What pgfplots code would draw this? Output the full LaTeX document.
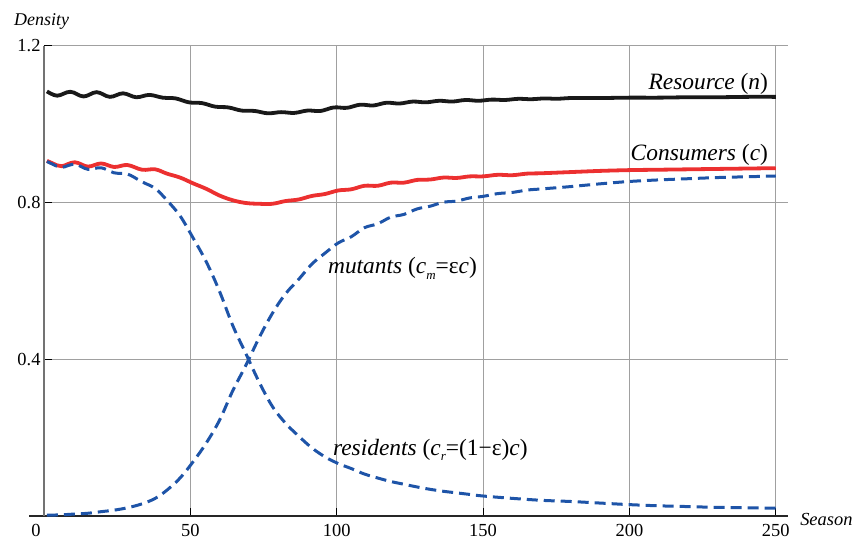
\documentclass[border=0pt]{standalone}
\usepackage{fontspec}
\setmainfont{Liberation Serif}
\usepackage{pgfplots}
\pgfplotsset{compat=1.18}
\definecolor{resred}{RGB}{236,48,48}
\definecolor{resblue}{RGB}{30,84,168}
\definecolor{gridgray}{RGB}{160,160,160}

\begin{document}
\begin{tikzpicture}
\begin{axis}[
  x=2.927bp, y=391.7bp,
  xmin=0, xmax=254.2, ymin=0, ymax=1.2,
  axis line style={draw=none},
  clip=false,
  xtick={50,100,150,200,250},
  ytick={0.4,0.8,1.2},
  extra x ticks={0},
  extra x tick style={grid=none, major tick length=0pt, xticklabel style={xshift=-8bp}},
  tick pos=left,
  tick align=inside,
  major tick length=8bp,
  tick style={black, line width=0.9bp},
  grid=major,
  major grid style={gridgray, line width=0.9bp},
  /pgf/number format/assume math mode=true,
  /pgf/number format/fixed,
  ticklabel style={font=\rmfamily\fontsize{18.5}{20}\selectfont},
  xticklabel style={yshift=-5bp},
  yticklabels={0.4,0.8,1.2},
]
% axis lines
\draw[black!85, line width=1.1bp] (axis cs:-5,0) -- (axis cs:254.2,0);
\draw[black!55, line width=1.1bp] (axis cs:0,0) -- (axis cs:0,1.2);

% Resource (n)
\addplot[black!90, line width=3.8bp, smooth, tension=0.6] coordinates {
(1,1.084) (4.5,1.073) (9,1.083) (13.5,1.071) (18,1.082) (22.5,1.070) (27,1.079)
(31.5,1.069) (36,1.075) (40.5,1.068) (45,1.066) (49.5,1.056) (54,1.054) (58.5,1.045)
(63,1.043) (67.5,1.035) (72,1.034) (76.5,1.028) (81,1.031) (85.5,1.029) (90,1.035)
(94.5,1.034) (99,1.043) (103.5,1.042) (108,1.050) (112.5,1.048) (117,1.055) (121.5,1.053)
(126,1.058) (130.5,1.056) (135,1.060) (139.5,1.058) (144,1.062) (148.5,1.060) (153,1.063)
(157.5,1.062) (162,1.065) (166.5,1.064) (171,1.066) (175.5,1.065) (180,1.067) (190,1.067)
(200,1.068) (210,1.068) (220,1.069) (230,1.069) (240,1.070) (250,1.070)
};

% Consumers (c)
\addplot[resred, line width=3.8bp, smooth, tension=0.6] coordinates {
(1,0.907) (3,0.900) (6,0.893) (10.5,0.903) (15,0.892) (19.5,0.900) (24,0.891)
(28.5,0.896) (33.5,0.884) (38,0.885) (42,0.874) (46.5,0.864) (51,0.849) (55.5,0.835)
(60,0.818) (64.5,0.806) (69,0.799) (73.5,0.797) (78,0.797) (82.5,0.804) (87,0.808)
(91.5,0.817) (96,0.822) (100.5,0.831) (105,0.834) (109.5,0.843) (114,0.843) (118.5,0.851)
(123,0.851) (127.5,0.858) (132,0.859) (136.5,0.864) (141,0.863) (145.5,0.867) (150,0.867)
(155,0.871) (160,0.870) (165,0.874) (170,0.875) (180,0.878) (190,0.881) (200,0.883)
(210,0.884) (220,0.885) (230,0.886) (240,0.887) (250,0.888)
};

% residents
\addplot[resblue, line width=3bp, dash pattern=on 11bp off 6bp, smooth, tension=0.6] coordinates {
(1,0.905) (3,0.898) (6,0.890) (10.5,0.898) (15,0.885) (19.5,0.889) (24,0.876)
(28.5,0.873) (33.5,0.853) (38,0.836) (42,0.806) (46.5,0.766) (51,0.709) (55.5,0.648)
(60,0.573) (64.5,0.486) (69,0.414) (73.5,0.342) (78,0.280) (82.5,0.237) (87,0.204)
(91.5,0.174) (96,0.151) (100.5,0.134) (105,0.121) (109.5,0.107) (114,0.097) (118.5,0.088)
(123,0.081) (127.5,0.074) (132,0.068) (136.5,0.063) (141,0.059) (145.5,0.055) (150,0.051)
(160,0.045) (170,0.040) (180,0.037) (190,0.033) (200,0.029) (210,0.026) (220,0.024)
(230,0.022) (240,0.021) (250,0.020)
};

% mutants
\addplot[resblue, line width=3bp, dash pattern=on 11bp off 6bp, smooth, tension=0.6] coordinates {
(1,0.002) (6,0.003) (10.5,0.005) (15,0.007) (19.5,0.011) (24,0.015)
(28.5,0.021) (33.5,0.031) (38,0.045) (42,0.066) (46.5,0.097) (51,0.139) (55.5,0.187)
(60,0.245) (64.5,0.320) (69,0.385) (73.5,0.455) (78,0.517) (82.5,0.567) (87,0.604)
(91.5,0.643) (96,0.671) (100.5,0.697) (105,0.713) (109.5,0.736) (114,0.746) (118.5,0.763)
(123,0.770) (127.5,0.784) (132,0.791) (136.5,0.801) (141,0.804) (145.5,0.812) (150,0.816)
(155,0.823) (160,0.826) (165,0.832) (170,0.835) (180,0.841) (190,0.848) (200,0.854)
(210,0.858) (220,0.861) (230,0.864) (240,0.866) (250,0.868)
};

% labels
\node[anchor=base west, inner sep=0pt, font=\rmfamily\fontsize{18}{20}\selectfont\itshape] at (axis cs:-10.25,1.251) {Density};
\node[anchor=base west, inner sep=0pt, font=\rmfamily\fontsize{18.5}{20}\selectfont\itshape] at (axis cs:258.3,-0.0255) {Season};
\node[anchor=base east, inner sep=0pt, font=\rmfamily\fontsize{23.5}{26}\selectfont] at (axis cs:247.4,1.0876) {\textit{Resource} (\textit{n})};
\node[anchor=base east, inner sep=0pt, font=\rmfamily\fontsize{23.5}{26}\selectfont] at (axis cs:247.4,0.9063) {\textit{Consumers} (\textit{c})};
\node[anchor=base west, inner sep=0pt, font=\rmfamily\fontsize{23.5}{26}\selectfont] at (axis cs:97.0,0.620) {\textit{mutants} (\textit{c}\raisebox{-0.55ex}{\fontsize{13}{13}\selectfont\textit{m}}=ε\textit{c})};
\node[anchor=base west, inner sep=0pt, font=\rmfamily\fontsize{23.5}{26}\selectfont] at (axis cs:98.7,0.1557) {\textit{residents} (\textit{c}\raisebox{-0.55ex}{\fontsize{13}{13}\selectfont\textit{r}}=(1−ε)\textit{c})};

% bounding box matching the reference frame
\path (axis cs:-15.03,-0.074) rectangle (axis cs:278.44,1.3173);
\end{axis}
\end{tikzpicture}
\end{document}
